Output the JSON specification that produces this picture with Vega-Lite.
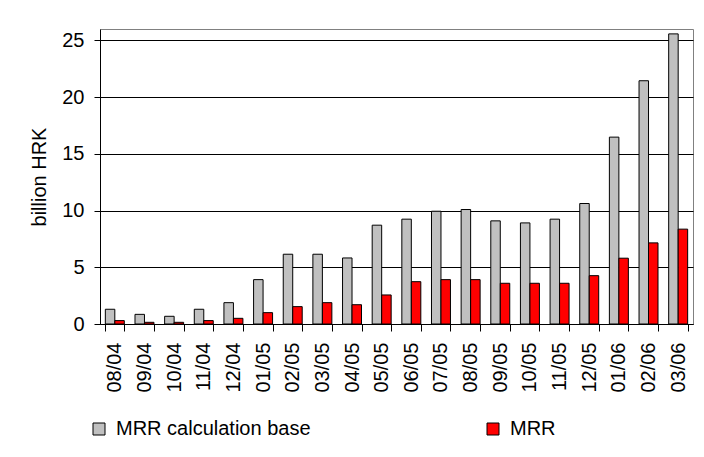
{
  "$schema": "https://vega.github.io/schema/vega-lite/v6.json",
  "width": 593,
  "height": 295,
  "autosize": {"type": "none"},
  "padding": {"left": 100, "top": 29, "right": 11, "bottom": 133},
  "background": "white",
  "config": {
    "font": "Liberation Sans",
    "view": {"stroke": "#808080", "strokeWidth": 1}
  },
  "data": {
    "values": [
      {"month": "08/04", "series": "MRR calculation base", "value": 1.3},
      {"month": "09/04", "series": "MRR calculation base", "value": 0.85},
      {"month": "10/04", "series": "MRR calculation base", "value": 0.68},
      {"month": "11/04", "series": "MRR calculation base", "value": 1.3},
      {"month": "12/04", "series": "MRR calculation base", "value": 1.88},
      {"month": "01/05", "series": "MRR calculation base", "value": 3.91},
      {"month": "02/05", "series": "MRR calculation base", "value": 6.15},
      {"month": "03/05", "series": "MRR calculation base", "value": 6.15},
      {"month": "04/05", "series": "MRR calculation base", "value": 5.82},
      {"month": "05/05", "series": "MRR calculation base", "value": 8.71},
      {"month": "06/05", "series": "MRR calculation base", "value": 9.24},
      {"month": "07/05", "series": "MRR calculation base", "value": 9.94},
      {"month": "08/05", "series": "MRR calculation base", "value": 10.09},
      {"month": "09/05", "series": "MRR calculation base", "value": 9.09},
      {"month": "10/05", "series": "MRR calculation base", "value": 8.91},
      {"month": "11/05", "series": "MRR calculation base", "value": 9.24},
      {"month": "12/05", "series": "MRR calculation base", "value": 10.62},
      {"month": "01/06", "series": "MRR calculation base", "value": 16.47},
      {"month": "02/06", "series": "MRR calculation base", "value": 21.44},
      {"month": "03/06", "series": "MRR calculation base", "value": 25.57},
      {"month": "08/04", "series": "MRR", "value": 0.3},
      {"month": "09/04", "series": "MRR", "value": 0.15},
      {"month": "10/04", "series": "MRR", "value": 0.15},
      {"month": "11/04", "series": "MRR", "value": 0.3},
      {"month": "12/04", "series": "MRR", "value": 0.5},
      {"month": "01/05", "series": "MRR", "value": 1.0},
      {"month": "02/05", "series": "MRR", "value": 1.53},
      {"month": "03/05", "series": "MRR", "value": 1.88},
      {"month": "04/05", "series": "MRR", "value": 1.7},
      {"month": "05/05", "series": "MRR", "value": 2.56},
      {"month": "06/05", "series": "MRR", "value": 3.73},
      {"month": "07/05", "series": "MRR", "value": 3.91},
      {"month": "08/05", "series": "MRR", "value": 3.91},
      {"month": "09/05", "series": "MRR", "value": 3.59},
      {"month": "10/05", "series": "MRR", "value": 3.59},
      {"month": "11/05", "series": "MRR", "value": 3.59},
      {"month": "12/05", "series": "MRR", "value": 4.26},
      {"month": "01/06", "series": "MRR", "value": 5.8},
      {"month": "02/06", "series": "MRR", "value": 7.15},
      {"month": "03/06", "series": "MRR", "value": 8.36}
    ]
  },
  "mark": {"type": "bar", "stroke": "black", "strokeWidth": 1},
  "encoding": {
    "x": {
      "field": "month",
      "type": "nominal",
      "sort": null,
      "scale": {"paddingInner": 0.36, "paddingOuter": 0.18},
      "axis": {
        "title": null,
        "labelAngle": -90,
        "labelFont": "Liberation Sans",
        "labelFontSize": 20,
        "labelColor": "black",
        "labelPadding": 11,
        "labelBaseline": "middle",
        "tickBand": "extent",
        "tickSize": 7,
        "tickColor": "black",
        "domainColor": "black",
        "grid": false
      }
    },
    "xOffset": {
      "field": "series",
      "type": "nominal",
      "sort": ["MRR calculation base", "MRR"],
      "scale": {"paddingInner": 0, "paddingOuter": 0}
    },
    "y": {
      "field": "value",
      "type": "quantitative",
      "scale": {"domain": [0, 26], "nice": false},
      "axis": {
        "title": "billion HRK",
        "titleFont": "Liberation Sans",
        "titleFontSize": 20,
        "titleFontWeight": "normal",
        "titleColor": "black",
        "titlePadding": 12,
        "values": [0, 5, 10, 15, 20, 25],
        "labelFont": "Liberation Sans",
        "labelFontSize": 20,
        "labelColor": "black",
        "labelPadding": 10,
        "tickSize": 6,
        "tickColor": "black",
        "domainColor": "black",
        "gridColor": "black",
        "gridOpacity": 1,
        "gridWidth": 1
      }
    },
    "color": {
      "field": "series",
      "type": "nominal",
      "sort": ["MRR calculation base", "MRR"],
      "scale": {"domain": ["MRR calculation base", "MRR"], "range": ["#C0C0C0", "#FF0000"]},
      "legend": {
        "title": null,
        "orient": "none",
        "legendX": -11,
        "legendY": 390,
        "direction": "horizontal",
        "columns": 2,
        "columnPadding": 172,
        "symbolType": "square",
        "symbolSize": 144,
        "symbolStrokeColor": "black",
        "symbolStrokeWidth": 1,
        "symbolOpacity": 1,
        "labelFont": "Liberation Sans",
        "labelFontSize": 20,
        "labelColor": "black",
        "labelLimit": 400,
        "labelOffset": 7
      }
    }
  }
}
